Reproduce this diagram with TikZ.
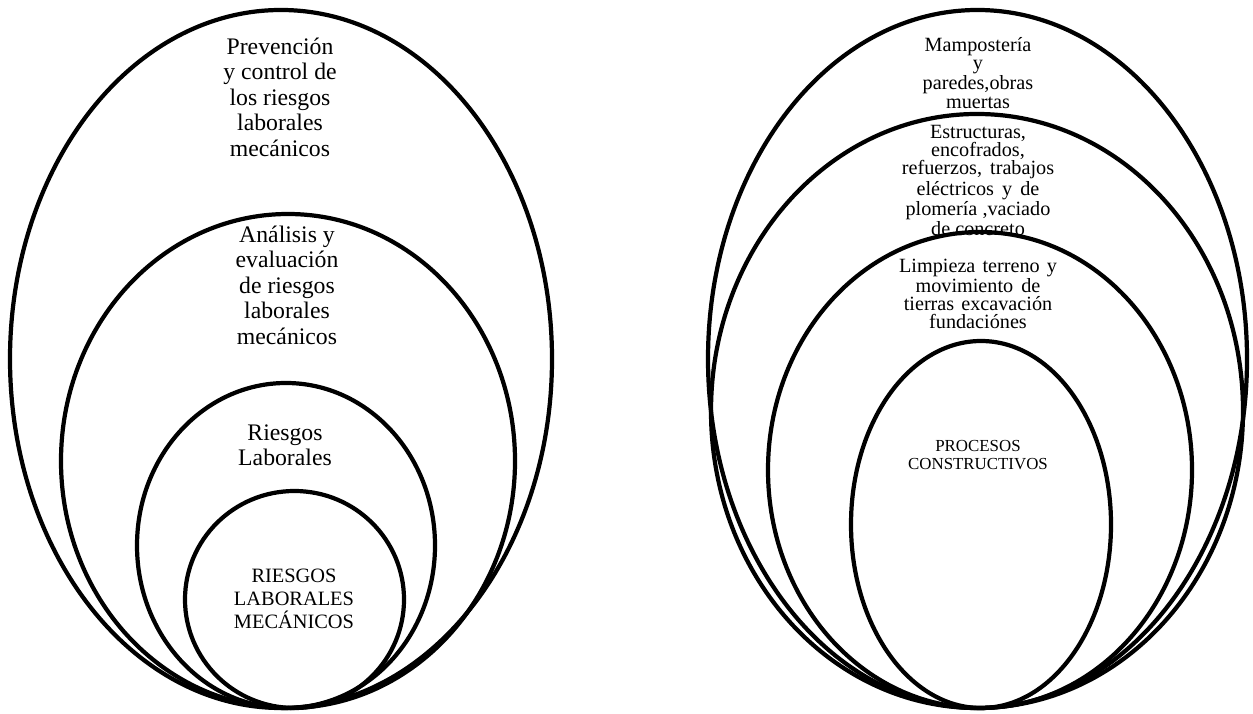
\documentclass[tikz,border=0pt]{standalone}
\usepackage{fontspec}
\setmainfont{Liberation Serif}
\usetikzlibrary{shapes.geometric}
\tikzset{
  ring/.style={draw,ellipse,line width=2.4pt,inner sep=0pt},
  big/.style={font=\fontsize{13.5}{14.5}\selectfont,align=center},
  mid/.style={font=\fontsize{11.5}{10.3}\selectfont,align=center},
  caps/.style={font=\fontsize{11.6}{12.9}\selectfont,align=center}
}
\begin{document}
\begin{tikzpicture}
  \useasboundingbox (0,0) rectangle (25.06,14.26);
  % left set: risks
  \node[ring,minimum width=10.84cm,minimum height=13.96cm] (prev) at (5.62,7.08) {};
  \node[ring,minimum width=9.08cm,minimum height=9.88cm] (anal) at (5.76,5.04) {};
  \node[ring,minimum width=5.96cm,minimum height=6.5cm] (ries) at (5.72,3.35) {};
  \node[ring,minimum width=4.38cm,minimum height=4.34cm] (mec) at (5.89,2.27) {};

  \node[big] (prevtxt) at (5.60,12.32) {Prevención\\y control de\\los riesgos\\laborales\\mecánicos};
  \node[big] (analtxt) at (5.74,8.56) {Análisis y\\evaluación\\de riesgos\\laborales\\mecánicos};
  \node[big] (riestxt) at (5.70,5.35) {Riesgos\\Laborales};
  \node[caps] (mectxt) at (5.88,2.28) {RIESGOS\\LABORALES\\MECÁNICOS};

  % right set: construction processes
  \node[ring,minimum width=10.78cm,minimum height=13.96cm] (mamp) at (19.55,7.08) {};
  \node[ring,minimum width=10.64cm,minimum height=11.88cm] (estr) at (19.54,6.04) {};
  \node[ring,minimum width=8.48cm,minimum height=9.52cm] (limp) at (19.60,4.86) {};
  \node[ring,minimum width=5.2cm,minimum height=7.34cm] (proc) at (19.62,3.77) {};

  \node[mid] (mamptxt) at (19.56,12.80) {Mampostería\\y\\paredes,obras\\muertas};
  \node[mid] (estrtxt) at (19.56,10.65) {Estructuras,\\encofrados,\\refuerzos,\hspace{0.4em}trabajos\\eléctricos\hspace{0.4em}y\hspace{0.4em}de\\plomería ,vaciado\\de concreto};
  \node[mid] (limptxt) at (19.56,8.38) {Limpieza\hspace{0.35em}terreno\hspace{0.35em}y\\movimiento\hspace{0.4em}de\\tierras\hspace{0.35em}excavación\\fundaciónes};
  \node[caps,font=\fontsize{9.6}{10}\selectfont] (proctxt) at (19.56,5.16) {PROCESOS\\CONSTRUCTIVOS};
\end{tikzpicture}
\end{document}
